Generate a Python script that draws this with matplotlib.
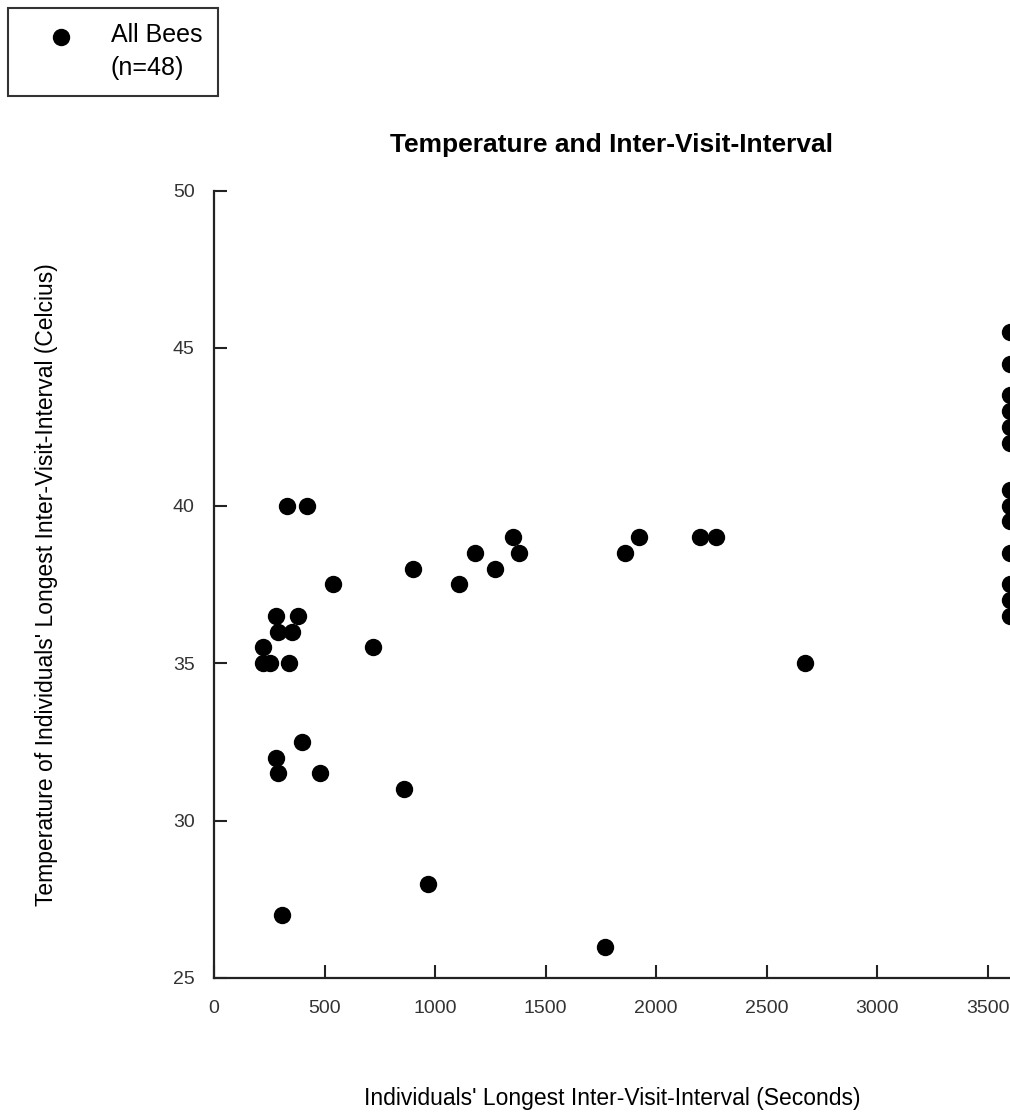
"""Scatter plot of temperature vs longest inter-visit interval."""

import matplotlib

matplotlib.use("Agg")
import matplotlib.pyplot as plt
from matplotlib.transforms import ScaledTranslation

plt.rcParams["font.family"] = ["Liberation Sans", "DejaVu Sans"]

# Longest inter-visit interval (seconds) for each bee
interval_s = [
    330, 420, 220, 220, 253, 280, 378, 288, 351, 339,
    540, 717, 898, 399, 280, 288, 479, 859, 967, 307,
    1109, 1180, 1270, 1350, 1379, 1860, 1921, 2200, 2270, 2672,
    1768,
    3600, 3600, 3600, 3600, 3600, 3600, 3600, 3600, 3600, 3600,
    3600, 3600, 3600,
]
# Temperature at that interval (Celcius)
temp_c = [
    40, 40, 35.5, 35, 35, 36.5, 36.5, 36, 36, 35,
    37.5, 35.5, 38, 32.5, 32, 31.5, 31.5, 31, 28, 27,
    37.5, 38.5, 38, 39, 38.5, 38.5, 39, 39, 39, 35,
    26,
    45.5, 44.5, 43.5, 43, 42.5, 42, 40.5, 40, 39.5, 38.5,
    37.5, 37, 36.5,
]

x_ticks = [0, 500, 1000, 1500, 2000, 2500, 3000, 3500]
y_ticks = [25, 30, 35, 40, 45, 50]

W, H = 1010, 1112
fig = plt.figure(figsize=(W / 100, H / 100), dpi=100)
ax = fig.add_axes([214 / W, 1 - 978 / H, (W - 214) / W, (978 - 190.5) / H])

ax.plot(interval_s, temp_c, "o", color="black", markersize=11.5,
        label="All Bees\n(n=48)")

ax.set_xlim(0, 3600)
ax.set_ylim(25, 50)
ax.set_xticks(x_ticks)
ax.set_yticks(y_ticks)

for side in ("top", "right"):
    ax.spines[side].set_visible(False)
for side in ("left", "bottom"):
    ax.spines[side].set_linewidth(1.6)
    ax.spines[side].set_color("#222222")

ax.tick_params(axis="both", direction="in", length=9.5, width=1.5,
               colors="#222222", labelsize=14, labelcolor="#333333")
ax.tick_params(axis="x", pad=16)
ax.tick_params(axis="y", pad=14)

ax.set_title("Temperature and Inter-Visit-Interval", fontsize=19,
             fontweight="bold", pad=28)
ax.set_xlabel("Individuals' Longest Inter-Visit-Interval (Seconds)",
              fontsize=16.5)
ax.set_ylabel("Temperature of Individuals' Longest Inter-Visit-Interval (Celcius)",
              fontsize=16.5)
ax.xaxis.set_label_coords(0.5, (978 - 1099) / (978 - 190.5))
ax.xaxis.label.set_va("center")
ax.yaxis.set_label_coords((47 - 214) / (W - 214), 0.5)
ax.yaxis.label.set_va("center")

leg = fig.legend(loc="upper left", bbox_to_anchor=(8 / W, 1 - 8 / H),
                 borderaxespad=0, fontsize=18, frameon=True, fancybox=False,
                 handletextpad=0.5, borderpad=0.62, handlelength=3.0,
                 markerscale=1.0)
leg.get_frame().set_edgecolor("black")
leg.get_frame().set_linewidth(1.5)
for t in leg.get_texts():
    t.set_linespacing(1.45)
# marker sits level with the first line of the label
h = leg.legend_handles[0]
h.set_transform(h.get_transform() + ScaledTranslation(0, 0.16, fig.dpi_scale_trans))

fig.savefig("out.png", dpi=100)
